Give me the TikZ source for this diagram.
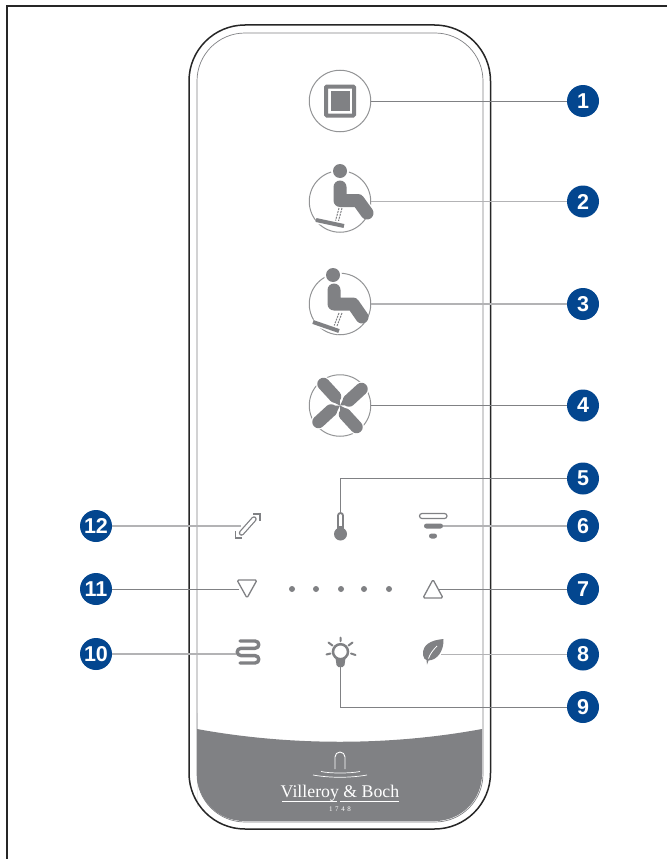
\documentclass[tikz,border=0pt]{standalone}
\usepackage{fontspec}
\setmainfont{Liberation Sans}
\newfontfamily\logofont{Liberation Serif}
\definecolor{keygray}{HTML}{808184}
\definecolor{badgeblue}{HTML}{03468F}
\tikzset{
 badge/.style={circle,fill=badgeblue,text=white,inner sep=0pt,minimum size=32pt,font=\fontsize{21.5}{21.5}\selectfont\bfseries},
 ring/.style={circle,draw=keygray!85,line width=1pt,inner sep=0pt,minimum size=61.5pt},
 leader/.style={draw=keygray,line width=1pt},
 leaderlight/.style={draw=keygray!60,line width=1.2pt},
 halo/.style={preaction={draw=white,line width=#1}},
 glyph/.style={draw=keygray,line cap=round,line join=round},
 pill/.style={rounded corners=2.5pt,line width=1.2pt},
}
\begin{document}
\begin{tikzpicture}[x=1pt,y=-1pt]
\useasboundingbox (0,0) rectangle (667,859);
\fill[white] (0,0) rectangle (667,859);
\draw[black!85,line width=2pt] (7,859) -- (7,6) -- (667,6);
% housing
\draw[black!85,line width=1.5pt,rounded corners=56pt] (189,25) rectangle (490.5,829);
\draw[keygray,line width=.7pt,rounded corners=48pt] (197,33) rectangle (483,822);
\fill[keygray] (197,729) .. controls (290,746) and (390,746) .. (482,729)
 [rounded corners=47pt] -- (482,821) -- (197,821) -- (197,760) [sharp corners] -- cycle;
% logo
\draw[white,line width=.9pt] (335,769) -- (335,757) arc[start angle=180,end angle=360,radius=5] -- (345,769);
\draw[white,line width=.7pt] (321,771.5) .. controls (330,773.5) and (350,773.5) .. (360,771.5);
\draw[white,line width=.7pt] (313,775) .. controls (330,778) and (350,778) .. (367,775);
\node (brand) at (340,797) [anchor=base,inner sep=0pt,text=white,font=\logofont\fontsize{17.8}{17.8}\selectfont] {Villeroy \& Boch};
\draw[white,line width=.6pt] (282,801) -- (337,801) (340,801) -- (399,801);
\node (year) at (340,809.5) [inner sep=0pt,text=white,font=\logofont\fontsize{7}{7}\selectfont] {1\hspace{2.6pt}7\hspace{2.6pt}4\hspace{2.6pt}8};
% round keys
\node[ring] (stopkey) at (340,101) {};
\node[ring] (seatkeya) at (340,201.5) {};
\node[ring] (seatkeyb) at (340,304) {};
\node[ring] (fankey) at (340,405.5) {};
\draw[keygray,line width=4pt,rounded corners=1pt] (326,86.5) rectangle (354,115.5);
\fill[keygray] (330.5,91) rectangle (350,111);
% seat one
\fill[white] (340,171) circle (9);
\fill[keygray] (340,171) circle (7);
\draw[glyph,line width=13pt,halo=15.5pt] (340,187) -- (340,200.5) -- (358,200.5) -- (367,213);
\draw[glyph,line width=1pt,dash pattern=on 2pt off 1pt,line cap=butt] (342,208) -- (338.5,221) (339,208) -- (335.5,221);
\draw[glyph,line width=4pt,line cap=butt,halo=7pt] (316,220) -- (344,226);
% seat two
\fill[white] (333,275) circle (9);
\fill[keygray] (333,275) circle (7);
\draw[glyph,line width=13pt,halo=15.5pt] (334,290) -- (334,304) -- (353,304) -- (362,317);
\draw[glyph,line width=1pt,dash pattern=on 2pt off 1pt,line cap=butt] (342,313) -- (337,326) (339,313) -- (334,326);
\draw[glyph,line width=4pt,line cap=butt,halo=7pt] (313,322) -- (339,331);
% fan
\foreach \a in {0,90,180,270} {
 \begin{scope}[shift={(fankey.center)},rotate=\a]
 \draw[white,line width=15pt,line cap=round] (18,-13.5) -- (21.5,-16.5);
 \fill[keygray] (0,0) -- (4.8,-9.6) -- (13.2,-.4) -- cycle;
 \draw[glyph,line width=12.5pt] (9,-5) -- (21.5,-16.5);
 \end{scope}
}
% thermometer
\draw[keygray,line width=1.8pt] (338,531) -- (338,515.5) arc[start angle=180,end angle=360,radius=2.5] -- (343,531);
\fill[keygray] (340.5,534) circle (6.5);
\fill[keygray] (338,526) rectangle (343,531);
\coordinate (thermotop) at (340.5,512);
% filter
\draw[keygray,pill] (419.5,513.5) rectangle (447,518.5);
\fill[keygray,rounded corners=2.5pt] (424,523.5) rectangle (443,528.5);
\fill[keygray,rounded corners=2.5pt] (429,533.5) rectangle (437,538.5);
\coordinate (filterend) at (443,526);
% resize
\draw[glyph,line width=5.5pt] (241.5,533) -- (254,519);
\draw[white,line width=3pt,line cap=round] (241.5,533) -- (254,519);
\draw[keygray,line width=1.5pt] (253,514) -- (260,514) -- (260,521);
\draw[keygray,line width=1.5pt] (235.5,531) -- (235.5,538) -- (242,538);
\coordinate (resizeend) at (241,526);
% triangles
\draw[keygray,line width=1.3pt,line join=round,rounded corners=1.5pt] (237,580) -- (257,580) -- (247,598) -- cycle;
\draw[keygray,line width=1.3pt,line join=round,rounded corners=1.5pt] (423,598) -- (443,598) -- (433,579.5) -- cycle;
\coordinate (downend) at (238.5,589);
\coordinate (upend) at (438,589);
\foreach \x in {292,316,341,364,389} \fill[keygray] (\x,589) circle (3);
% heater coil
\draw[glyph,line width=3.4pt] (240,641) -- (255,641) .. controls (260,641) and (260,648.3) .. (255,648.3)
 -- (241,648.3) .. controls (236,648.3) and (236,655.6) .. (241,655.6)
 -- (255,655.6) .. controls (260,655.6) and (260,663) .. (255,663) -- (240,663);
\coordinate (coilend) at (236,654);
% bulb
\draw[keygray,line width=2.5pt] (340.5,651.7) circle (7.5);
\fill[keygray] (335.5,658) -- (345.5,658) -- (344.5,665) -- (342.5,667) -- (338.5,667) -- (336.5,665) -- cycle;
\draw[glyph,line width=2pt] (340.5,637.5) -- (340.5,641) (328.5,642.5) -- (332.5,645.5) (352.5,642.5) -- (348.5,645.5)
 (326.5,654.5) -- (330.5,653.5) (355.5,655) -- (351,653.5);
\coordinate (bulbend) at (340.5,667);
% leaf
\fill[keygray] (443.5,639) .. controls (432,640) and (422,644) .. (423,655) .. controls (423.5,658) and (425,660) .. (426.5,660)
 -- (427,664.5) -- (428.5,660.5) .. controls (438,660) and (444,650) .. (443.5,639) -- cycle;
\draw[white,line width=.8pt] (428.5,658.5) .. controls (430,654) and (433,650) .. (437,646);
\coordinate (leafend) at (441,654.5);
% badges
\node[badge] (no1) at (583,101) {1};
\node[badge] (no2) at (583,201.5) {2};
\node[badge] (no3) at (583,304) {3};
\node[badge] (no4) at (583,405.5) {4};
\node[badge] (no5) at (583,478.5) {5};
\node[badge] (no6) at (583,526) {6};
\node[badge] (no7) at (583,589) {7};
\node[badge] (no8) at (583,654.5) {8};
\node[badge] (no9) at (583,707) {9};
\node[badge] (no10) at (96,654) {10};
\node[badge] (no11) at (96,589) {11};
\node[badge] (no12) at (96,526) {12};
% leaders
\draw[leader] (stopkey) -- (no1);
\draw[leaderlight] (seatkeya) -- (no2);
\draw[leaderlight] (seatkeyb) -- (no3);
\draw[leader] (fankey) -- (no4);
\draw[leader] (thermotop) |- (no5);
\draw[leaderlight] (filterend) -- (no6);
\draw[leader] (upend) -- (no7);
\draw[leaderlight] (leafend) -- (no8);
\draw[leader] (bulbend) |- (no9);
\draw[leaderlight] (no10) -- (coilend);
\draw[leader] (no11) -- (downend);
\draw[leaderlight] (no12) -- (resizeend);
\end{tikzpicture}
\end{document}
